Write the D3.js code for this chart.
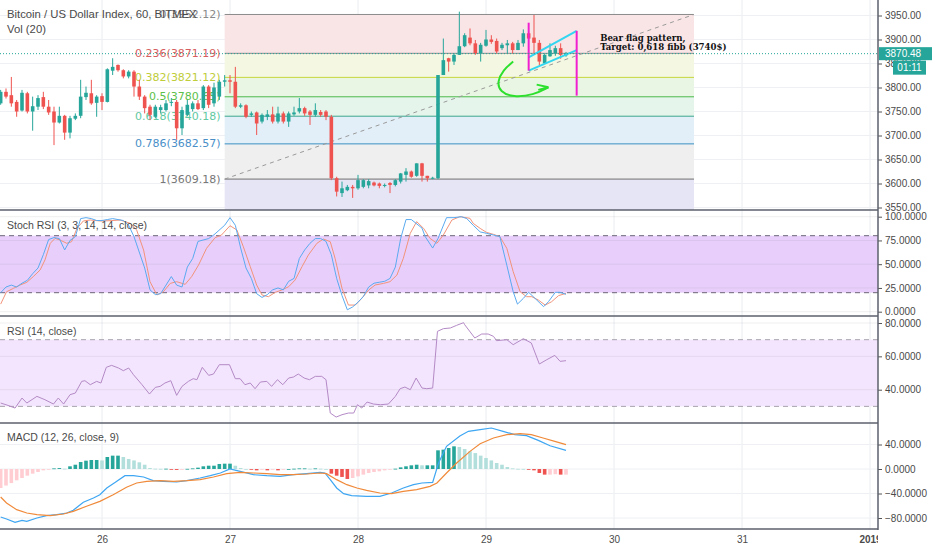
<!DOCTYPE html>
<html>
<head>
<meta charset="utf-8">
<script src="https://cdn.jsdelivr.net/npm/d3@7"></script>
<style>
  body { margin: 0; background: #fff; }
  svg { display: block; }
</style>
</head>
<body>
<div id="chart"></div>
<script>
// ---- data (hour 0 = day 26 00:00) ----
const firstHour = -19;
const opens  = [3767,3791,3784,3770,3752,3788,3750,3760,3780,3760,3750,3727,3741,3706,3735,3741,3780,3788,3768,3782,
                3770,3835,3847,3836,3823,3833,3802,3781,3760,3739,3753,3753,3768,3770,3715,3743,3755,3767,3757,3802,
                3767,3781,3812,3815,3812,3760,3763,3743,3748,3729,3739,3744,3729,3746,3729,3744,3750,3757,3750,3743,
                3749,3750,3739,3611,3580,3586,3593,3590,3593,3596,3602,3600,3595,3601,3597,3604,3618,3625,3616,3642,
                3616,3611,3611,3826,3861,3854,3868,3886,3904,3892,3871,3887,3900,3897,3882,3888,3892,3878,3892,3913,
                3904,3893,3850,3865,3871,3882,3867];
const highs  = [3795,3798,3822,3774,3795,3791,3781,3784,3791,3774,3760,3760,3743,3741,3746,3816,3802,3816,3784,3788,
                3840,3861,3848,3838,3836,3836,3816,3784,3764,3764,3764,3774,3778,3774,3760,3774,3771,3774,3805,3805,
                3810,3816,3826,3826,3843,3767,3765,3750,3750,3746,3753,3760,3760,3750,3750,3760,3778,3760,3753,3767,
                3753,3753,3743,3614,3604,3597,3597,3618,3609,3609,3604,3602,3600,3603,3609,3622,3632,3627,3642,3643,
                3616,3614,3826,3902,3862,3871,3958,3913,3923,3899,3893,3920,3909,3902,3893,3899,3895,3899,3921,3917,
                3951,3899,3871,3892,3887,3892,3874];
const lows   = [3764,3777,3760,3739,3750,3746,3710,3753,3755,3743,3680,3725,3691,3694,3732,3736,3774,3764,3739,3753,
                3769,3826,3833,3819,3819,3781,3774,3746,3732,3736,3746,3750,3761,3691,3701,3740,3750,3753,3753,3757,
                3760,3774,3802,3788,3757,3757,3736,3739,3701,3725,3732,3725,3725,3725,3718,3741,3746,3741,3722,3739,
                3739,3732,3607,3573,3572,3584,3570,3587,3590,3590,3594,3590,3592,3580,3594,3600,3604,3612,3614,3604,
                3604,3609,3609,3826,3833,3847,3868,3884,3888,3868,3854,3885,3891,3871,3878,3871,3871,3878,3885,3899,
                3871,3846,3850,3864,3866,3860,3864];
const closes = [3791,3781,3767,3750,3789,3750,3761,3778,3760,3748,3727,3741,3706,3736,3741,3781,3789,3767,3781,3770,
                3838,3843,3836,3823,3833,3802,3781,3757,3743,3760,3759,3767,3770,3715,3753,3764,3767,3755,3802,3764,
                3800,3812,3815,3812,3760,3763,3739,3746,3725,3743,3744,3729,3746,3729,3746,3748,3757,3746,3743,3753,
                3743,3739,3611,3583,3590,3593,3590,3607,3607,3605,3596,3595,3597,3597,3607,3621,3625,3614,3642,3616,
                3611,3612,3826,3857,3854,3868,3886,3909,3892,3871,3889,3900,3895,3875,3889,3892,3878,3893,3913,3902,
                3893,3854,3868,3878,3882,3868,3870.48];
const lastPrice = 3870.48;

const fibRatios = [0, 0.236, 0.382, 0.5, 0.618, 0.786, 1, 1.618];
const fibPrices = [3952.12, 3871.19, 3821.12, 3780.65, 3740.18, 3682.57, 3609.18, 3397.24];
const fibHours  = [23, 111];

const stochK = [[-19,20],[-18,26],[-17,28],[-16,26],[-15,30],[-14,33],[-13,40],[-12,46],[-11,60],[-10,76],[-9,78],[-8,77],
  [-7,65],[-6,75],[-5,79],[-4,98],[-3,99],[-2,98],[-1,96],[0,96],[1,97],[2,98],[4,96],[5,91],[6,79],[8,46],[9,23],[10,18],
  [11,19],[12,28],[13,37],[14,28],[15,26],[16,47],[17,56],[18,74],[20,77],[21,81],[23,91],[24,99],[25,91],[26,67],[27,46],
  [28,35],[29,19],[30,15],[31,18],[32,23],[33,25],[34,23],[35,32],[36,35],[37,56],[38,65],[39,72],[40,77],[41,77],[42,74],
  [43,60],[44,35],[45,17],[46,2],[47,5],[48,10],[49,16],[50,26],[51,30],[52,31],[53,32],[54,35],[55,47],[56,77],[57,97],
  [58,97],[60,88],[60.6,79],[62,67],[63,77],[64.6,99],[66,99],[67.4,100],[68.4,98],[69.6,91],[70.9,84],[72.1,82.5],
  [73.4,80.7],[74.6,79],[75.9,49],[77.1,21],[77.9,8],[79,14],[80,20.4],[81.2,14],[82.8,5.3],[83.7,10.5],[85,20.4],
  [85.9,20.4],[87,18.3]];
const stochD = [[-19,8],[-17.9,21],[-16.6,24.6],[-15.4,28],[-14.1,30.9],[-12.9,36.9],[-11.6,43.9],[-10.7,54.4],[-9.7,72],
  [-8.8,77.2],[-7.9,75.5],[-6.6,72],[-5.7,73.7],[-4.7,87.7],[-3.5,95.5],[-2.2,96.5],[-0.4,95.5],[1.5,95.8],[3.4,96.5],
  [5.3,93],[6.5,86],[7.8,64.9],[9,31.6],[10.3,17.6],[11.5,21],[12.8,29.8],[14,31.6],[15.6,28.8],[16.8,36.9],[18.1,49.1],
  [19.6,66.7],[21.2,77.9],[22.4,80.7],[24,90.5],[25.3,86],[26.5,68.4],[27.8,47.4],[29,28.1],[30,17.6],[31.2,15.8],
  [32.5,20.4],[33.7,22.8],[35,26.3],[36.2,33.3],[37.5,47.4],[38.7,59.7],[40.3,72],[41.5,76.5],[42.8,73.7],[43.7,56.2],
  [45,24.6],[46.2,7],[47.5,7],[48.7,14],[50,22.8],[51.2,28.1],[52.8,29.8],[54,31.6],[55.3,38.6],[56.5,56.2],[57.8,82.5],
  [59,94.8],[60.3,87.7],[61.5,77.2],[62.8,72],[64,80.7],[65.6,96.5],[67.1,100],[69,98.3],[69.6,93],[70.9,87.7],
  [72.1,83.5],[73.4,81.4],[74.6,79],[75.9,66.7],[77.1,42.1],[78.4,21],[79.6,15.8],[80.6,15.8],[81.8,12.3],[83.1,7],
  [84.3,10.5],[85.6,16.9],[87,19.3]];

const rsi = [[-19,32],[-18,31],[-16.3,29],[-15,35],[-14.1,32],[-12.2,36],[-10.7,34],[-9.1,31.4],[-8.2,35],[-7.2,31.4],
  [-6,37],[-5,38],[-3.8,45],[-3.2,45.4],[-2.2,43],[-1,45],[-0.2,44],[0.8,53.4],[1.8,54.6],[3.1,53],[4,51.4],[5,53],
  [5.9,49],[7.5,43],[8.9,37.4],[10,41.4],[10.9,42],[11.8,44],[12.9,45.4],[14,36.6],[15,42],[16.2,45],[17.1,46.6],
  [17.8,46],[18.8,53.4],[20,48.6],[20.9,49.4],[22,55],[23.9,55],[25,46.6],[25.9,46.6],[26.8,43],[27.8,44],[28.7,40.6],
  [29.7,44.6],[30.9,45],[31.8,42],[32.9,46],[33.9,43],[35,47],[35.9,47.6],[36.8,49.4],[37.9,47],[38.9,46],[40,48],
  [41.2,48],[42,46],[42.8,26],[43.9,23.6],[45,25],[46.2,26],[47.2,26],[47.9,31],[48.7,29],[49.7,32.6],[50.9,31.4],
  [52.2,31],[53.7,31.4],[55,36],[55.9,40.6],[56.8,41.6],[57.8,40],[58.9,47],[60,41],[60.9,40.6],[62,41],[62.9,75],
  [64,76.6],[65.3,77],[66.5,78.6],[67.8,80.2],[68,79],[69.9,71],[71.2,73.4],[72.4,73.4],[73.4,72],[74,69.4],[75.9,70],
  [77.1,67],[79,70.6],[80.5,68],[82,55.4],[83.4,58],[84.9,60.6],[85.9,57],[87,57.4]];

const macdLine = [[-19,-78.4],[-17.9,-81.6],[-16.3,-87],[-15,-83.8],[-14.1,-85.4],[-12.2,-80],[-10.4,-76.2],[-8.5,-74.5],
  [-6.6,-71.8],[-5.4,-67.5],[-3.5,-54.4],[-1.6,-47.3],[-0.4,-41.9],[0.9,-31],[2.5,-21.8],[4.3,-10.9],[5.9,-10.9],
  [7.8,-13.1],[9.6,-19],[11.5,-20.1],[14,-21.2],[15.9,-19],[18.4,-14.7],[20.3,-10.9],[22.2,-6.5],[24,0],[25.9,-3.8],
  [28.4,-9.3],[30.9,-10.9],[33.4,-12],[35.9,-9.3],[38.4,-7.6],[40.9,-5.5],[41.8,-6.5],[42.8,-17.4],[44,-31],[45.3,-40.3],
  [46.8,-43.5],[49.6,-44.6],[52.1,-44.6],[54.3,-39.2],[56.5,-31],[58.4,-25.6],[60,-22.9],[62,-21.8],[63.1,9.8],[64.6,37],
  [67.1,54],[68.7,61.5],[70.9,64.2],[73,66.9],[75.2,61.5],[77.4,56],[79.6,54.4],[81.8,46.8],[84,38],[87,30.5]];
const signalLine = [[-19,-45.7],[-17.9,-55.5],[-16,-66.4],[-14.1,-71.8],[-12.2,-74.5],[-9.7,-76.2],[-7.2,-73.5],
  [-5.4,-69.1],[-2.9,-60.9],[-0.4,-52.8],[2.1,-41.9],[4.6,-29.9],[6.5,-22.9],[8.4,-20.1],[10.9,-19],[13.4,-20.1],
  [15.9,-19],[18.4,-17.4],[20.9,-13.1],[23.4,-7.6],[25.9,-5.5],[28.4,-6.5],[30.9,-7.6],[33.4,-9.3],[35.9,-9.3],
  [38.4,-8.2],[40.9,-6.5],[42.1,-7.6],[44,-17.4],[45.9,-25.6],[47.8,-31],[49.6,-34.8],[52.1,-39.2],[54.3,-40.3],
  [56.5,-36.5],[59,-33.7],[61.5,-28.3],[62.8,-22.9],[64.6,-6.5],[66.5,9.8],[69,28.8],[70.9,41.3],[73.4,50.6],
  [75.9,56],[78.4,57.7],[80.5,56],[82.7,50.6],[84.9,45.1],[87,39.7]];
const macdHist = [-31,-27,-23,-18.5,-14.7,-10.9,-7.6,-4.9,-2.2,-1,1,1.5,0.5,4.4,7,11.4,13.6,14.7,14.7,14,
  19.6,21.8,21.8,19.6,16.3,14,10.9,7,1.6,0.5,0.3,0.5,-1,-1.5,-1,0.3,1,2.2,4.4,5.4,
  5.4,8.2,8.7,8.7,5.4,1.6,0,-1,-2.2,-1,-2.2,-1,-2.2,-1,0,0.5,1,1,0.5,1,
  0.5,0,-7.6,-10.9,-13,-16.3,-14.7,-12,-9.2,-6.5,-4.9,-3.8,-2.2,-1,0.5,2.7,4.4,6,7,6,
  6,6,30.5,31.6,34.3,37,36,32.6,28.8,26,21.8,18,14,9.8,7,3.3,1,0.3,0.2,-1,
  -2.2,-6.5,-9.2,-9.2,-8.5,-9.2,-9.2];

const dayHours  = [0, 24, 48, 72, 96, 120, 144];
const dayLabels = ['26', '27', '28', '29', '30', '31', '2019'];
const priceTicks = [3550, 3600, 3650, 3700, 3750, 3800, 3850, 3900, 3950];
const stochTicks = [0, 25, 50, 75, 100];
const rsiTicks   = [40, 60, 80];
const macdTicks  = [-80, -40, 0, 40];

// bear flag drawing, [hour, price]
const flagPoleL  = [[80, 3935], [80, 3835]];
const flagPoleR  = [[89, 3918], [89, 3783]];
const flagTop    = [[80, 3863], [89, 3918]];
const flagBottom = [[80, 3835], [89, 3878]];
const arrowPath  = [[77.1, 3854], [75.2, 3836.5], [74.1, 3812], [74.6, 3791], [77.1, 3779.5], [80.9, 3784.4], [83.7, 3800.5]];
const arrowHead  = [[81.5, 3806], [83.7, 3800.5], [81.8, 3795]];
const noteAt     = [93.4, 3903];
const noteLines  = ['Bear flag pattern,', 'Target: 0,618 fibb (3740$)'];

// ---- layout ----
const W = 932, H = 550, axisX = 878;
const panes = { main: [0, 210], stoch: [210, 316], rsi: [316, 423], macd: [423, 529] };

const x = d3.scaleLinear().domain([0, 24]).range([102, 230]);
const yP = d3.scaleLinear().domain([3550, 3950]).range([207.5, 15.5]);
const yS = d3.scaleLinear().domain([0, 100]).range([311.7, 216.7]);
const yR = d3.scaleLinear().domain([40, 80]).range([389.7, 323]);
const yM = d3.scaleLinear().domain([-80, 40]).range([518, 444.5]);

const svg = d3.select('#chart').append('svg')
    .attr('width', W).attr('height', H)
    .style('font-family', "'Liberation Sans', Arial, sans-serif");
svg.append('rect').attr('width', W).attr('height', H).attr('fill', '#fff');

const defs = svg.append('defs');
Object.entries(panes).forEach(([k, [t, b]]) => {
    defs.append('clipPath').attr('id', 'clip-' + k)
        .append('rect').attr('x', 0).attr('y', t).attr('width', axisX).attr('height', b - t);
});
defs.append('clipPath').attr('id', 'clip-dates')
    .append('rect').attr('x', 0).attr('y', 529).attr('width', axisX).attr('height', 21);

// vertical grid
svg.append('g').selectAll('line').data(dayHours).join('line')
    .attr('x1', d => x(d)).attr('x2', d => x(d))
    .attr('y1', 0).attr('y2', 529)
    .attr('stroke', '#e9ecf0').attr('stroke-width', 1);

function hGrid(ticks, y) {
    svg.append('g').selectAll('line').data(ticks).join('line')
        .attr('x1', 0).attr('x2', axisX)
        .attr('y1', d => y(d)).attr('y2', d => y(d))
        .attr('stroke', '#eef0f3').attr('stroke-width', 1);
}
hGrid(priceTicks, yP);

// ---- main pane ----
const main = svg.append('g').attr('clip-path', 'url(#clip-main)');

const zoneColors = ['#f9e5e6', '#f4f8e2', '#eaf6e4', '#e5f5ec', '#e2eff8', '#efefef', '#e6e5f6'];
const lineColors = ['#8a8a8a', '#8a8a8a', '#c6d43c', '#4cb94a', '#3aa68f', '#3a8fc2', '#6e6e6e'];
const labelColors = ['#8a8a8a', '#d65e5e', '#c0cd3a', '#5cbf4a', '#62c9a2', '#4a8fc8', '#787878'];
const fx0 = x(fibHours[0]), fx1 = x(fibHours[1]);

main.append('g').selectAll('rect').data(zoneColors).join('rect')
    .attr('x', fx0).attr('width', fx1 - fx0)
    .attr('y', (d, i) => yP(fibPrices[i]))
    .attr('height', (d, i) => yP(fibPrices[i + 1]) - yP(fibPrices[i]))
    .attr('fill', d => d);

main.append('g').selectAll('line').data(fibPrices.slice(0, 7)).join('line')
    .attr('x1', fx0).attr('x2', fx1)
    .attr('y1', d => yP(d)).attr('y2', d => yP(d))
    .attr('stroke', (d, i) => lineColors[i]).attr('stroke-width', 1);

main.append('line')
    .attr('x1', fx0).attr('y1', yP(fibPrices[6]))
    .attr('x2', fx1).attr('y2', yP(fibPrices[0]))
    .attr('stroke', '#9a9a9a').attr('stroke-dasharray', '4,4');

main.append('g').selectAll('text').data(fibPrices.slice(0, 7)).join('text')
    .attr('x', fx0 - 4).attr('y', d => yP(d))
    .attr('text-anchor', 'end').attr('dominant-baseline', 'central')
    .style('font-family', "'DejaVu Sans', sans-serif").style('font-size', '11px')
    .attr('fill', (d, i) => labelColors[i])
    .text((d, i) => `${fibRatios[i]}(${d.toFixed(2)})`);

// candles
const up = '#26a69a', down = '#ef5350';
const candles = opens.map((o, i) => ({ h: firstHour + i, o, hi: highs[i], lo: lows[i], c: closes[i] }));
const cg = main.append('g').selectAll('g').data(candles).join('g');
cg.append('line')
    .attr('x1', d => x(d.h)).attr('x2', d => x(d.h))
    .attr('y1', d => yP(d.hi)).attr('y2', d => yP(d.lo))
    .attr('stroke', d => d.c >= d.o ? up : down).attr('stroke-width', 1);
cg.append('rect')
    .attr('x', d => x(d.h) - 1.8).attr('width', 3.6)
    .attr('y', d => yP(Math.max(d.o, d.c)))
    .attr('height', d => Math.max(1, Math.abs(yP(d.o) - yP(d.c))))
    .attr('fill', d => d.c >= d.o ? up : down);

// current price line
svg.append('line')
    .attr('x1', 0).attr('x2', axisX).attr('y1', yP(lastPrice)).attr('y2', yP(lastPrice))
    .attr('stroke', '#26a69a').attr('stroke-dasharray', '1,2');

// bear flag annotation
const segLine = d3.line().x(d => x(d[0])).y(d => yP(d[1]));
[flagTop, flagBottom].forEach(s => main.append('path').attr('d', segLine(s))
    .attr('fill', 'none').attr('stroke', '#33d6f0').attr('stroke-width', 2));
[flagPoleL, flagPoleR].forEach(s => main.append('path').attr('d', segLine(s))
    .attr('fill', 'none').attr('stroke', '#f020d0').attr('stroke-width', 2));
main.append('path').attr('d', d3.line().x(d => x(d[0])).y(d => yP(d[1])).curve(d3.curveBasis)(arrowPath))
    .attr('fill', 'none').attr('stroke', '#2ee02e').attr('stroke-width', 2);
main.append('path').attr('d', d3.line().x(d => x(d[0])).y(d => yP(d[1]))(arrowHead))
    .attr('fill', 'none').attr('stroke', '#2ee02e').attr('stroke-width', 2);

const note = svg.append('text')
    .attr('x', x(noteAt[0])).attr('y', yP(noteAt[1]))
    .attr('dominant-baseline', 'central')
    .style('font-family', "'DejaVu Serif', serif").style('font-size', '8.6px').style('font-weight', 'bold')
    .attr('fill', '#111');
note.selectAll('tspan').data(noteLines).join('tspan')
    .attr('x', x(noteAt[0])).attr('dy', (d, i) => i ? 9 : 0).text(d => d);

// ---- stoch RSI pane ----
const st = svg.append('g').attr('clip-path', 'url(#clip-stoch)');
st.append('rect').attr('x', 0).attr('width', axisX)
    .attr('y', yS(80)).attr('height', yS(20) - yS(80)).attr('fill', '#e8cffb');
stochTicks.forEach(t => st.append('line').attr('x1', 0).attr('x2', axisX)
    .attr('y1', yS(t)).attr('y2', yS(t)).attr('stroke', 'rgba(120,120,140,0.12)'));
[20, 80].forEach(t => st.append('line').attr('x1', 0).attr('x2', axisX)
    .attr('y1', yS(t)).attr('y2', yS(t)).attr('stroke', '#6c6478').attr('stroke-dasharray', '5,4'));
const stLine = d3.line().x(d => x(d[0])).y(d => yS(d[1]));
st.append('path').attr('d', stLine(stochD)).attr('fill', 'none').attr('stroke', '#f2937a').attr('stroke-width', 1);
st.append('path').attr('d', stLine(stochK)).attr('fill', 'none').attr('stroke', '#5aaaf0').attr('stroke-width', 1);

// ---- RSI pane ----
const rp = svg.append('g').attr('clip-path', 'url(#clip-rsi)');
rp.append('rect').attr('x', 0).attr('width', axisX)
    .attr('y', yR(70)).attr('height', yR(30) - yR(70)).attr('fill', '#f3e5fd');
rsiTicks.forEach(t => rp.append('line').attr('x1', 0).attr('x2', axisX)
    .attr('y1', yR(t)).attr('y2', yR(t)).attr('stroke', 'rgba(120,120,140,0.12)'));
[30, 70].forEach(t => rp.append('line').attr('x1', 0).attr('x2', axisX)
    .attr('y1', yR(t)).attr('y2', yR(t)).attr('stroke', '#a8a4ae').attr('stroke-dasharray', '5,4'));
rp.append('path').attr('d', d3.line().x(d => x(d[0])).y(d => yR(d[1]))(rsi))
    .attr('fill', 'none').attr('stroke', '#b48ac6').attr('stroke-width', 1);

// ---- MACD pane ----
const mp = svg.append('g').attr('clip-path', 'url(#clip-macd)');
macdTicks.forEach(t => mp.append('line').attr('x1', 0).attr('x2', axisX)
    .attr('y1', yM(t)).attr('y2', yM(t)).attr('stroke', '#eef0f3'));
mp.append('g').selectAll('rect').data(macdHist).join('rect')
    .attr('x', (d, i) => x(firstHour + i) - 1.8).attr('width', 3.6)
    .attr('y', d => yM(Math.max(0, d)))
    .attr('height', d => Math.max(0.8, Math.abs(yM(d) - yM(0))))
    .attr('fill', (d, i) => {
        const prev = i ? macdHist[i - 1] : d;
        if (d >= 0) return d >= prev ? '#26a69a' : '#b2dfdb';
        return d < prev ? '#ef5350' : '#ffcdd2';
    });
const mLine = d3.line().x(d => x(d[0])).y(d => yM(d[1]));
mp.append('path').attr('d', mLine(macdLine)).attr('fill', 'none').attr('stroke', '#3ea6f2').attr('stroke-width', 1.2);
mp.append('path').attr('d', mLine(signalLine)).attr('fill', 'none').attr('stroke', '#f08a3a').attr('stroke-width', 1.2);

// ---- axes ----
function rightAxis(y, ticks, fmt) {
    const g = svg.append('g').attr('transform', `translate(${axisX},0)`)
        .call(d3.axisRight(y).tickValues(ticks).tickFormat(fmt).tickSize(4).tickPadding(3));
    g.select('.domain').remove();
    g.selectAll('line').attr('stroke', '#555');
    g.selectAll('text').attr('fill', '#4a4a4a').style('font-size', '10px')
        .style('font-family', "'Liberation Sans', Arial, sans-serif");
}
rightAxis(yP, priceTicks, d3.format('.2f'));
rightAxis(yS, stochTicks, d3.format('.4f'));
rightAxis(yR, rsiTicks, d3.format('.4f'));
rightAxis(yM, macdTicks, d3.format('.4f'));

// pane borders
[210, 316, 423, 529].forEach(yy => svg.append('line')
    .attr('x1', 0).attr('x2', axisX).attr('y1', yy).attr('y2', yy)
    .attr('stroke', '#5d606b').attr('stroke-width', 1.5));
svg.append('line').attr('x1', axisX).attr('x2', axisX).attr('y1', 0).attr('y2', 530)
    .attr('stroke', '#5d606b').attr('stroke-width', 1.5);

// date axis (clipped at the price axis, as the last label is cut there)
const xa = svg.append('g').attr('clip-path', 'url(#clip-dates)')
    .append('g').attr('transform', 'translate(0,529)')
    .call(d3.axisBottom(x).tickValues(dayHours).tickFormat((d, i) => dayLabels[i]).tickSize(0).tickPadding(7));
xa.select('.domain').remove();
xa.selectAll('text').attr('fill', '#4a4a4a').style('font-size', '10px')
    .style('font-family', "'Liberation Sans', Arial, sans-serif")
    .style('font-weight', (d, i) => i === dayHours.length - 1 ? 'bold' : 'normal');

// price label boxes
svg.append('rect').attr('x', axisX + 1).attr('y', yP(lastPrice) - 6.5).attr('width', W - axisX - 1).attr('height', 13)
    .attr('fill', '#26a69a');
svg.append('text').attr('x', axisX + 7).attr('y', yP(lastPrice)).attr('dominant-baseline', 'central')
    .attr('fill', '#fff').style('font-size', '10px').text(lastPrice.toFixed(2));
svg.append('rect').attr('x', 893).attr('y', yP(lastPrice) + 7).attr('width', 33).attr('height', 14)
    .attr('fill', '#26a69a');
svg.append('text').attr('x', 909.5).attr('y', yP(lastPrice) + 14).attr('dominant-baseline', 'central')
    .attr('text-anchor', 'middle').attr('fill', '#fff').style('font-size', '10px').text('01:11');

// titles
const titles = [
    ['Bitcoin / US Dollar Index, 60, BITMEX', 14, 11.3],
    ['Vol (20)', 29, 11.3],
    ['Stoch RSI (3, 3, 14, 14, close)', 225, 10.5],
    ['RSI (14, close)', 331, 10.5],
    ['MACD (12, 26, close, 9)', 437, 10.5]
];
svg.append('g').selectAll('text').data(titles).join('text')
    .attr('x', 7).attr('y', d => d[1]).attr('dominant-baseline', 'central')
    .attr('fill', '#4a4a4a').style('font-size', d => d[2] + 'px')
    .text(d => d[0]);
</script>
</body>
</html>
